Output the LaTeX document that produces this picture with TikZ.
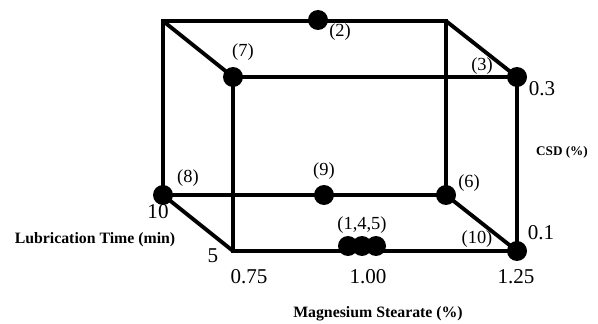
\documentclass[tikz,border=0pt]{standalone}
\usepackage{fontspec}
\setmainfont{Liberation Serif}
\begin{document}
\begin{tikzpicture}[x=0.02cm, y=-0.02cm, line width=2.2pt, line join=miter]
\tikzset{dot/.style={circle, fill, inner sep=0pt, minimum size=0.4cm},
  ptlab/.style={font=\fontsize{10.5}{12}\selectfont, inner sep=1pt},
  numlab/.style={font=\fontsize{12}{14}\selectfont, inner sep=1pt},
  axislab/.style={font=\bfseries\fontsize{9}{11}\selectfont, inner sep=1pt}}
\useasboundingbox (0,0) rectangle (598,324);
% corners of the box
\coordinate (btl) at (163,21);
\coordinate (btr) at (446,21);
\coordinate (bbl) at (163,195);
\coordinate (bbr) at (446,195);
\coordinate (ftl) at (233,77);
\coordinate (ftr) at (517,77);
\coordinate (fbl) at (233,251);
\coordinate (fbr) at (517,251);
\node[numlab] (t10) at (158,212) {10};
% edges
\draw (btl) -- (btr) -- (bbr) -- (bbl) -- cycle;
\draw (ftl) -- (ftr) -- (fbr) -- (fbl) -- cycle;
\draw (btl) -- (ftl);
\draw (btr) -- (ftr);
\draw (bbl) -- (fbl);
\draw (bbr) -- (fbr);
% design points
\node[dot] (d2) at (318,20) {};
\node[dot] (d7) at (ftl) {};
\node[dot] (d3) at (ftr) {};
\node[dot] (d8) at (bbl) {};
\node[dot] (d9) at (324,195) {};
\node[dot] (d6) at (bbr) {};
\node[dot] (d10) at (fbr) {};
\node[dot] (d1) at (348,246) {};
\node[dot] (d4) at (362,246) {};
\node[dot] (d5) at (376,246) {};
% labels
\node[ptlab] (l2) at (340,32) {(2)};
\node[ptlab] (l7) at (243,52) {(7)};
\node[ptlab] (l3) at (482,66) {(3)};
\node[ptlab] (l8) at (188,178) {(8)};
\node[ptlab] (l9) at (324,171) {(9)};
\node[ptlab] (l6) at (469,183) {(6)};
\node[ptlab] (l145) at (362,225) {(1,4,5)};
\node[ptlab] (l10) at (477,239) {(10)};
\node[numlab] (c03) at (542,89) {0.3};
\node[numlab] (c01) at (541,233) {0.1};
\node[numlab] (t5) at (213,256) {5};
\node[numlab] (m075) at (249,277) {0.75};
\node[numlab] (m100) at (368,277) {1.00};
\node[numlab] (m125) at (516,277) {1.25};
\node[axislab, font=\bfseries\fontsize{7.5}{9}\selectfont] (csd) at (562,152) {CSD (\%)};
\node[axislab] (lub) at (95,240) {Lubrication Time (min)};
\node[axislab] (mgs) at (378,314) {Magnesium Stearate (\%)};
\end{tikzpicture}
\end{document}
